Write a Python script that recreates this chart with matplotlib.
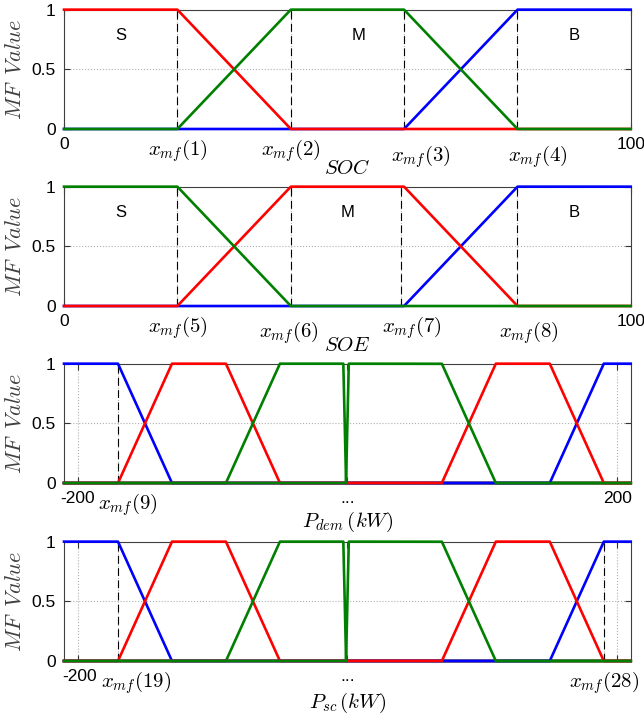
import matplotlib
matplotlib.use("Agg")
import matplotlib.pyplot as plt
import matplotlib.transforms as mtransforms
import numpy as np

plt.rcParams["font.family"] = ["Liberation Sans", "DejaVu Sans"]
plt.rcParams["mathtext.fontset"] = "cm"

# --- membership function parameters (trapezoid a, b, c, d) -------------------
soc_range = [0, 100]
soc_mf_params = [(60, 80, 100, 100), (0, 0, 20, 40), (20, 40, 60, 80)]   # B, S, M
soc_mf_colors = ["blue", "red", "green"]
soc_ticks = [0, 20, 40, 60, 80, 100]
soc_ticklabels = ["0", "$x_{mf}(1)$", "$x_{mf}(2)$", "$x_{mf}(3)$", "$x_{mf}(4)$", "100"]
soc_dashes = [20, 40, 60, 80]
soc_label_shift = [(0, 0), (0, 0), (0, 0), (17, -6), (20, -6), (0, 0)]

soe_range = [0, 100]
soe_mf_params = [(60, 80, 100, 100), (20, 40, 60, 80), (0, 0, 20, 40)]   # B, M, S
soe_mf_colors = ["blue", "red", "green"]
soe_ticks = [0, 20, 40, 59.5, 80, 100]
soe_ticklabels = ["0", "$x_{mf}(5)$", "$x_{mf}(6)$", "$x_{mf}(7)$", "$x_{mf}(8)$", "100"]
soe_dashes = [20, 40, 59.5, 80]
soe_label_shift = [(0, 0), (0, 0), (-2, -5), (11, 0), (11, -5), (0, 0)]

set_names = ["S", "M", "B"]
set_name_x = [10, 52, 90]
set_name_x2 = [10, 50, 90]

# power inputs: NB, NM, NS, PB, PM, PS
p_range = [-210, 210]
p_mf_params = [(-210, -210, -170, -130), (-170, -130, -90, -50), (-90, -50, -3, -1),
               (150, 190, 210, 210), (70, 110, 150, 190), (-1, 1, 70, 110)]
p_mf_colors = ["blue", "red", "green", "blue", "red", "green"]

pdem_ticks = [-200, -170, 0, 200]
pdem_ticklabels = ["-200", "$x_{mf}(9)$", "...", "200"]
pdem_dashes = [-170]
pdem_label_shift = [(0, 0), (10, 0), (0, 0), (0, 0)]

psc_ticks = [-200, -170, 0, 190, 200]
psc_ticklabels = ["-200", "$x_{mf}(19)$", "...", "$x_{mf}(28)$", ""]
psc_dashes = [-170, 190]
psc_label_shift = [(2, 0), (18, 0), (0, 0), (0, 0), (0, 0)]

COLORS = {"red": "#ff0000", "green": "#008000", "blue": "#0000ff"}


def trapmf(x, a, b, c, d):
    up = np.ones_like(x) if b == a else (x - a) / (b - a)
    down = np.ones_like(x) if d == c else (d - x) / (d - c)
    return np.clip(np.minimum(up, down), 0, 1)


def draw_panel(ax, xr, params, colors, ticks, ticklabels, dashes, shifts, xlabel, xlab_y):
    x = np.linspace(xr[0], xr[1], 4001)
    x = np.unique(np.concatenate([x, np.array(params, dtype=float).ravel()]))
    x = x[(x >= xr[0]) & (x <= xr[1])]
    ax.grid(True, ls=":", color="#b0b0b0", lw=0.8)
    ax.set_axisbelow(True)
    for xd in dashes:
        ax.plot([xd, xd], [0, 1], color="black", ls=(0, (7, 4)), lw=0.8, zorder=2)
    for p, c in zip(params, colors):
        ax.plot(x, trapmf(x, *p), color=COLORS[c], lw=1.9, clip_on=False, zorder=3)
    ax.set_xlim(xr)
    ax.set_ylim(0, 1)
    ax.set_yticks([0, 0.5, 1])
    ax.set_yticklabels(["0", "0.5", "1"])
    ax.set_xticks(ticks)
    ax.set_xticklabels(ticklabels)
    ax.tick_params(direction="in", length=4, top=True, right=True, labelsize=12.5,
                   color="#333333", pad=6)
    fig = ax.figure
    for lab, (dx, dy) in zip(ax.get_xticklabels(), shifts):
        if lab.get_text().startswith("$"):
            lab.set_fontsize(15)
        if dx or dy:
            off = mtransforms.ScaledTranslation(dx / 100, dy / 100, fig.dpi_scale_trans)
            lab.set_transform(lab.get_transform() + off)
    for s in ax.spines.values():
        s.set_color("#404040")
        s.set_linewidth(0.8)
    ax.set_ylabel(r"$MF\ \,Value$", fontsize=16, color="#404040", labelpad=4)
    ax.set_xlabel(xlabel, fontsize=15)
    ax.xaxis.set_label_coords(0.5, xlab_y)
    ax.xaxis.label.set_va("center")


fig = plt.figure(figsize=(6.44, 7.19), dpi=100)
left, width, height = 0.0994, 0.880, 0.166
ax1 = fig.add_axes([left, 0.8206, width, height])
ax2 = fig.add_axes([left, 0.5744, width, height])
ax3 = fig.add_axes([left, 0.3282, width, height])
ax4 = fig.add_axes([left, 0.0807, width, height])

draw_panel(ax1, soc_range, soc_mf_params, soc_mf_colors, soc_ticks, soc_ticklabels,
           soc_dashes, soc_label_shift, r"$SOC$", -0.33)
draw_panel(ax2, soe_range, soe_mf_params, soe_mf_colors, soe_ticks, soe_ticklabels,
           soe_dashes, soe_label_shift, r"$SOE$", -0.335)
draw_panel(ax3, p_range, p_mf_params, p_mf_colors, pdem_ticks, pdem_ticklabels,
           pdem_dashes, pdem_label_shift, r"$P_{dem}\,(kW)$", -0.33)
draw_panel(ax4, p_range, p_mf_params, p_mf_colors, psc_ticks, psc_ticklabels,
           psc_dashes, psc_label_shift, r"$P_{sc}\,(kW)$", -0.35)

for name, xs in zip(set_names, set_name_x):
    ax1.text(xs, 0.78, name, ha="center", va="center", fontsize=12)
for name, xs in zip(set_names, set_name_x2):
    ax2.text(xs, 0.78, name, ha="center", va="center", fontsize=12)

fig.savefig("out.png", dpi=100)
